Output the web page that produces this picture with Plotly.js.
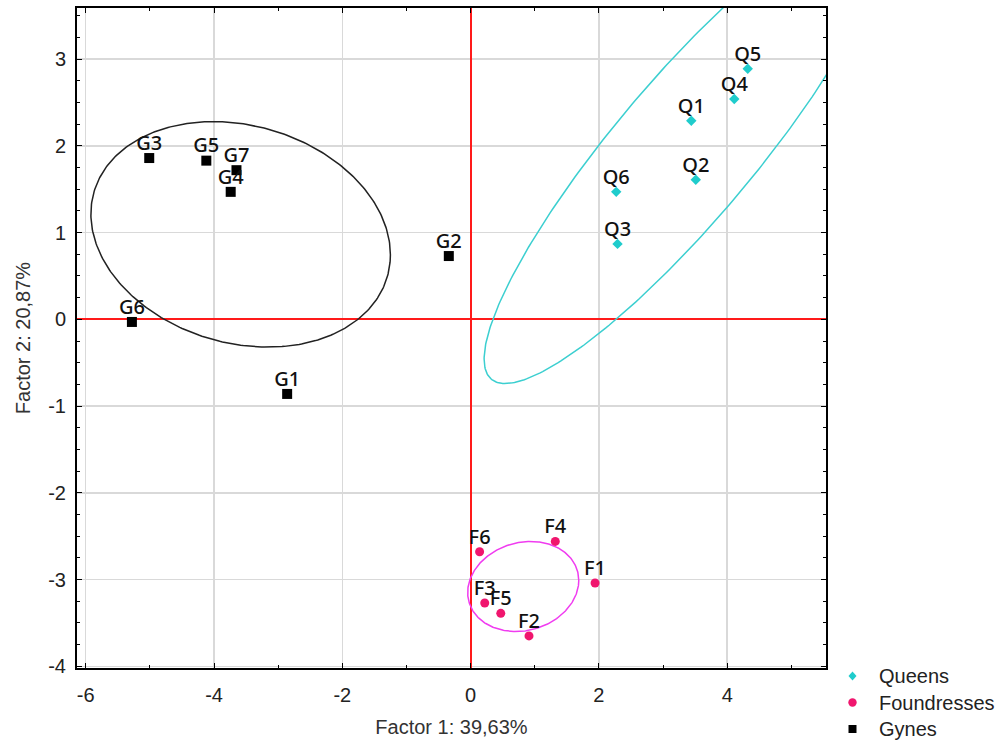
<!DOCTYPE html>
<html>
<head>
<meta charset="utf-8">
<script src="https://cdn.plot.ly/plotly-3.0.1.min.js"></script>
<style>html,body{margin:0;padding:0;background:#fff;}#chart{width:1006px;height:742px;}</style>
</head>
<body>
<div id="chart"></div>
<script>
// ---- data ----
const queensLabels = ['Q1', 'Q2', 'Q3', 'Q4', 'Q5', 'Q6'];
const queensX = [3.44, 3.51, 2.29, 4.11, 4.32, 2.27];
const queensY = [2.29, 1.61, 0.87, 2.54, 2.89, 1.47];

const foundLabels = ['F1', 'F2', 'F3', 'F4', 'F5', 'F6'];
const foundX = [1.94, 0.91, 0.22, 1.32, 0.47, 0.14];
const foundY = [-3.04, -3.65, -3.27, -2.56, -3.39, -2.68];

const gynesLabels = ['G1', 'G2', 'G3', 'G4', 'G5', 'G6', 'G7'];
const gynesX = [-2.86, -0.34, -5.01, -3.74, -4.12, -5.28, -3.65];
const gynesY = [-0.86, 0.73, 1.86, 1.47, 1.83, -0.03, 1.72];

// confidence ellipses: [centerX, centerY, varX, varY, covXY]
const queensEllipse = [3.325, 1.945, 9.70, 7.21, 7.48];
const foundEllipse = [0.82, -3.08, 0.75, 0.27, 0.06];
const gynesEllipse = [-3.585, 0.98, 5.45, 1.69, -0.55];

const groupNames = ['Queens', 'Foundresses', 'Gynes'];
const xTickVals = [-6, -4, -2, 0, 2, 4];
const yTickVals = [-4, -3, -2, -1, 0, 1, 2, 3];

function ellipse(p) {
  const [cx, cy, sxx, syy, sxy] = p;
  const l11 = Math.sqrt(sxx), l21 = sxy / l11, l22 = Math.sqrt(syy - l21 * l21);
  const xs = [], ys = [];
  for (let i = 0; i <= 360; i++) {
    const t = i / 360 * 2 * Math.PI;
    xs.push(cx + l11 * Math.cos(t));
    ys.push(cy + l21 * Math.cos(t) + l22 * Math.sin(t));
  }
  return {x: xs, y: ys};
}

const cQ = '#1fcccc', cF = '#f0166e', cG = '#000000';
const labelFont = {family: 'Noto Sans, sans-serif', size: 20, color: '#111', weight: 500};

const traces = [];
function ellTrace(p, color) {
  const e = ellipse(p);
  return {x: e.x, y: e.y, mode: 'lines', line: {color: color, width: 1.5}, showlegend: false, hoverinfo: 'skip'};
}
traces.push(ellTrace(gynesEllipse, '#222222'));
traces.push(ellTrace(queensEllipse, '#3ccfd0'));
traces.push(ellTrace(foundEllipse, '#f03cf0'));

traces.push({x: queensX, y: queensY, name: groupNames[0], mode: 'markers', type: 'scatter',
  marker: {symbol: 'diamond', size: 8, color: cQ}, showlegend: false});
traces.push({x: foundX, y: foundY, name: groupNames[1], mode: 'markers', type: 'scatter',
  marker: {symbol: 'circle', size: 9, color: cF}, showlegend: false});
traces.push({x: gynesX, y: gynesY, name: groupNames[2], mode: 'markers', type: 'scatter',
  marker: {symbol: 'square', size: 10, color: cG}, showlegend: false});

// point labels (an invisible tiny marker sets the label offset above the point)
[[queensX, queensY, queensLabels], [foundX, foundY, foundLabels], [gynesX, gynesY, gynesLabels]].forEach(g => {
  traces.push({x: g[0], y: g[1], text: g[2], mode: 'markers+text', textposition: 'top center',
    marker: {size: 3.5, opacity: 0}, textfont: labelFont, showlegend: false, hoverinfo: 'skip', cliponaxis: false});
});

// ---- legend (drawn in paper space) ----
const plotL = 77, plotW = 749, plotB = 668, plotH = 660;
const px2x = p => (p - plotL) / plotW;
const py2y = p => (plotB - p) / plotH;
const legendRowsPx = [676, 702.5, 729];
const legendMarkX = px2x(852.5), legendTextX = px2x(877);
const annotations = groupNames.map((n, i) => ({
  text: n, xref: 'paper', yref: 'paper', x: legendTextX, y: py2y(legendRowsPx[i]),
  xanchor: 'left', yanchor: 'middle', showarrow: false,
  font: {family: 'Liberation Sans, Arial, sans-serif', size: 20, color: '#222'}
}));
const shapes = [
  {type: 'path', xref: 'paper', yref: 'paper', xsizemode: 'pixel', ysizemode: 'pixel',
   xanchor: legendMarkX, yanchor: py2y(legendRowsPx[0]), path: 'M0,4.5 L4,0 L0,-4.5 L-4,0 Z',
   fillcolor: cQ, line: {width: 0}},
  {type: 'circle', xref: 'paper', yref: 'paper', xsizemode: 'pixel', ysizemode: 'pixel',
   xanchor: legendMarkX, yanchor: py2y(legendRowsPx[1]), x0: -4.2, x1: 4.2, y0: -4.2, y1: 4.2,
   fillcolor: cF, line: {width: 0}},
  {type: 'rect', xref: 'paper', yref: 'paper', xsizemode: 'pixel', ysizemode: 'pixel',
   xanchor: legendMarkX, yanchor: py2y(legendRowsPx[2]), x0: -4, x1: 4, y0: -4, y1: 4,
   fillcolor: cG, line: {width: 0}}
];

const axisFont = {family: 'Liberation Sans, Arial, sans-serif', size: 20, color: '#222'};
const titleFont = {family: 'Liberation Sans, Arial, sans-serif', size: 20, color: '#333'};
const layout = {
  width: 1006, height: 742,
  margin: {l: 77, r: 180, t: 8, b: 74},
  paper_bgcolor: '#fff', plot_bgcolor: '#fff',
  showlegend: false,
  annotations: annotations,
  shapes: shapes,
  xaxis: {
    range: [-6.136, 5.54], tickvals: xTickVals, ticktext: xTickVals.map(String),
    showgrid: true, gridcolor: '#d9d9d9', gridwidth: 1.5,
    zeroline: true, zerolinecolor: '#ff1a1a', zerolinewidth: 2,
    showline: true, linecolor: '#000', linewidth: 2, mirror: 'allticks',
    ticks: 'inside', ticklen: 5, tickcolor: '#000', tickwidth: 1,
    minor: {dtick: 1, tick0: 0, ticks: 'inside', ticklen: 3, tickcolor: '#000', showgrid: false},
    tickfont: axisFont, ticklabelstandoff: 8,
    title: {text: 'Factor 1: 39,63%', font: titleFont, standoff: 15},
    automargin: false
  },
  yaxis: {
    range: [-4.02, 3.59], tickvals: yTickVals, ticktext: yTickVals.map(String),
    showgrid: true, gridcolor: '#d9d9d9', gridwidth: 1.5,
    zeroline: true, zerolinecolor: '#ff1a1a', zerolinewidth: 2,
    showline: true, linecolor: '#000', linewidth: 2, mirror: 'allticks',
    ticks: 'inside', ticklen: 5, tickcolor: '#000', tickwidth: 1,
    minor: {dtick: 0.25, tick0: 0, ticks: 'inside', ticklen: 3, tickcolor: '#000', showgrid: false},
    tickfont: axisFont, ticklabelstandoff: 5,
    title: {text: 'Factor 2: 20,87%', font: titleFont, standoff: 12},
    automargin: false
  }
};

Plotly.newPlot('chart', traces, layout, {displayModeBar: false, staticPlot: true});
</script>
</body>
</html>
